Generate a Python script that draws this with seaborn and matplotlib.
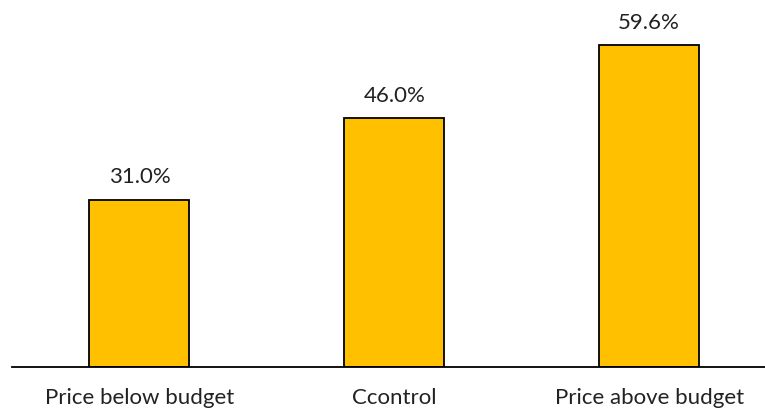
import matplotlib
matplotlib.use("Agg")
import matplotlib.pyplot as plt
import seaborn as sns
import pandas as pd

categories = ["Price below budget", "Ccontrol", "Price above budget"]
values = [31.0, 46.0, 59.6]
value_labels = ["31.0%", "46.0%", "59.6%"]

sns.set_style("white")
plt.rcParams["font.family"] = ["Lato", "DejaVu Sans"]

df = pd.DataFrame({"category": categories, "value": values})

fig = plt.figure(figsize=(7.65, 4.12), dpi=100)
ax = fig.add_axes([12 / 765, 45 / 412, 1 - 12 / 765, 367 / 412])

sns.barplot(data=df, x="category", y="value", color="#FFC000",
            saturation=1, width=100 / 255, edgecolor="black",
            linewidth=1.3, ax=ax)

for i, (v, lab) in enumerate(zip(values, value_labels)):
    ax.text(i, v + 2.3, lab, ha="center", va="bottom", fontsize=16,
            color="#222222")

ax.set_xlim(-0.5, 753.5 / 255 - 0.5)
ax.set_ylim(0, 367 / 5.403)
ax.set_xlabel("")
ax.set_ylabel("")
ax.set_yticks([])
ax.tick_params(axis="x", length=0, pad=15, labelsize=16, labelcolor="#222222")
for side in ["top", "right", "left"]:
    ax.spines[side].set_visible(False)
ax.spines["bottom"].set_color("black")
ax.spines["bottom"].set_linewidth(1.3)

fig.savefig("out.png", dpi=100)
